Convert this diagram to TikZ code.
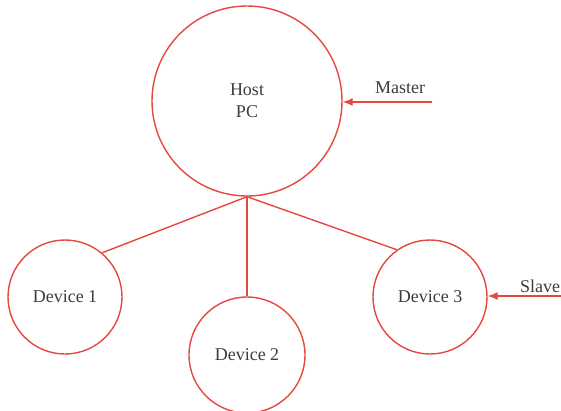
\documentclass[tikz,border=0pt]{standalone}
\usepackage{fontspec}
\setmainfont{Liberation Serif}
\usetikzlibrary{arrows.meta}
\definecolor{lred}{RGB}{228,72,62}
\definecolor{tgray}{RGB}{60,60,60}
\begin{document}
\begin{tikzpicture}[x=1pt,y=-1pt,
  circ/.style={circle,draw=lred,line width=1.4pt,inner sep=0pt,text=tgray,font=\fontsize{18}{22}\selectfont,align=center},
  conn/.style={draw=lred,line width=1.4pt},
  lab/.style={text=tgray,font=\fontsize{18}{22}\selectfont},
  arr/.style={draw=lred,line width=1.4pt,-{Latex[length=10pt,width=8pt]}}]
\useasboundingbox (0,0) rectangle (561,410);
\node[circ,minimum size=190pt] (host) at (247,101) {Host\\PC};
\node[circ,minimum size=114pt] (d1) at (65,297) {Device 1};
\node[circ,minimum size=116pt] (d2) at (247,355) {Device 2};
\node[circ,minimum size=114pt] (d3) at (430,297) {Device 3};
\draw[conn] (host.south) -- (d1.50);
\draw[conn] (host.south) -- (d2.north);
\draw[conn] (host.south) -- (d3.125);
\coordinate (mstart) at (432,102);
\coordinate (sstart) at (561,296);
\draw[arr] (mstart) -- (host.east |- mstart);
\draw[arr] (sstart) -- (d3.east |- sstart);
\node[lab] (mlab) at (400,88) {Master};
\node[lab] (slab) at (540,286) {Slave};
\end{tikzpicture}
\end{document}
